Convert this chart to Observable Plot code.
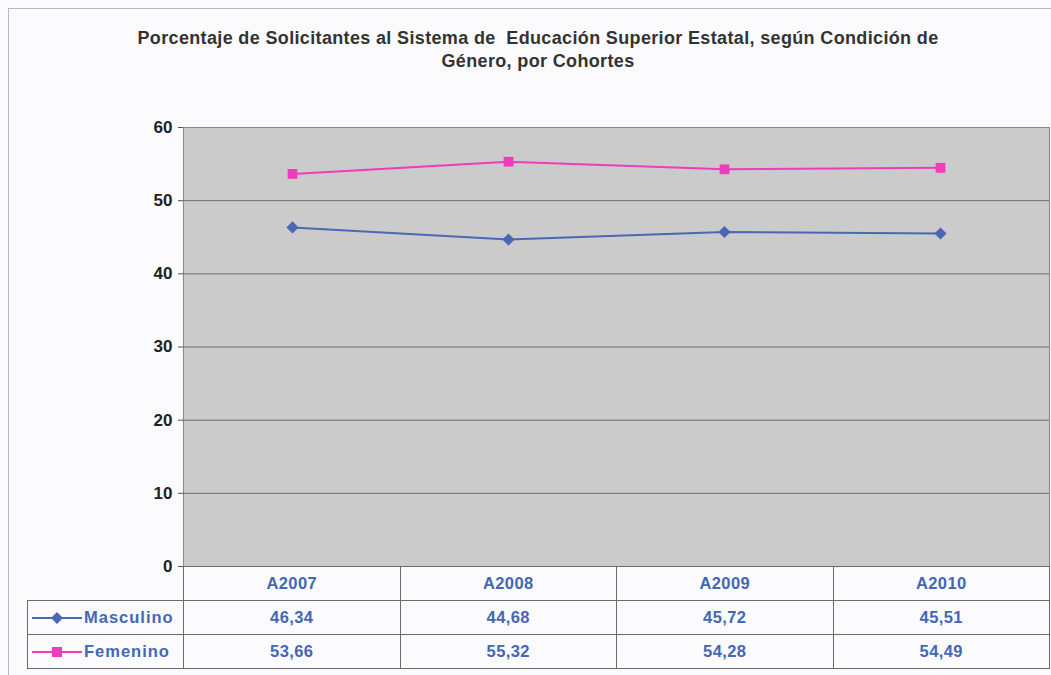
<!DOCTYPE html>
<html>
<head>
<meta charset="utf-8">
<script src="https://cdn.jsdelivr.net/npm/d3@7"></script>
<script src="https://cdn.jsdelivr.net/npm/@observablehq/plot@0.6"></script>
<style>
  html, body { margin: 0; padding: 0; background: #fcfcfe; }
  #wrap { position: relative; width: 1051px; height: 675px; overflow: hidden; background: #fbfbfd; font-family: "Liberation Sans", Arial, sans-serif; }
  #border { position: absolute; left: 8px; top: 8px; width: 1060px; height: 680px; border: 1px solid #b8b8b8; box-sizing: border-box; }
  #title { position: absolute; left: 0; top: 27px; width: 1076px; text-align: center; font-family: "Liberation Sans", Arial, sans-serif; font-weight: bold; font-size: 18px; letter-spacing: 0.35px; line-height: 23px; color: #333; }
  #chart { position: absolute; left: 0; top: 0; }
  #tbl { position: absolute; left: 27px; top: 566px; border-collapse: collapse; table-layout: fixed; }
  #tbl td { border: 1px solid #6a6a6a; height: 33px; padding: 0; text-align: center; font-weight: bold; font-size: 16.5px; color: #4267b6; letter-spacing: 0.4px; }
  #tbl td.blank { border: none; border-bottom: 1px solid #6a6a6a; }
  #tbl td.lg { text-align: left; white-space: nowrap; }
  #tbl svg { vertical-align: middle; }
</style>
</head>
<body>
<div id="wrap">
  <div id="border"></div>
  <div id="title">Porcentaje de Solicitantes al Sistema de&nbsp; Educación Superior Estatal, según Condición de<br>Género, por Cohortes</div>
  <div id="chart"></div>
  <table id="tbl"></table>
</div>
<script>
const cohortes = ["A2007", "A2008", "A2009", "A2010"];
const masculino = [46.34, 44.68, 45.72, 45.51];
const femenino = [53.66, 55.32, 54.28, 54.49];
const yTicks = [0, 10, 20, 30, 40, 50, 60];
const series = [
  {name: "Masculino", values: masculino, color: "#4a68b2", symbol: "diamond2"},
  {name: "Femenino", values: femenino, color: "#f03cbc", symbol: "square"}
];

const data = series.flatMap(s => cohortes.map((c, i) => ({serie: s.name, cohorte: c, valor: s.values[i]})));

const chart = Plot.plot({
  width: 1051,
  height: 568,
  marginLeft: 183,
  marginRight: 2,
  marginTop: 127,
  marginBottom: 2,
  style: {background: "transparent", fontFamily: "Liberation Sans, Arial, sans-serif", overflow: "visible"},
  x: {type: "point", domain: cohortes, padding: 0.5, axis: null},
  y: {domain: [0, 60], ticks: yTicks, label: null},
  color: {domain: series.map(s => s.name), range: series.map(s => s.color)},
  symbol: {domain: series.map(s => s.name), range: series.map(s => s.symbol)},
  marks: [
    Plot.frame({fill: "#cbcbcb", stroke: "#8a8a8a"}),
    Plot.gridY(yTicks.filter(t => t > 0 && t < 60), {stroke: "#6e6e6e", strokeOpacity: 1, strokeWidth: 1}),
    Plot.axisY({ticks: yTicks, tickSize: 5, tickPadding: 6, fontSize: 17, fontWeight: "bold", fill: "#222", stroke: "#555", label: null}),
    Plot.line(data, {x: "cohorte", y: "valor", z: "serie", stroke: "serie", strokeWidth: 2}),
    Plot.dot(data, {x: "cohorte", y: "valor", fill: "serie", symbol: "serie", r: 5.5, stroke: "none"})
  ]
});
document.getElementById("chart").appendChild(chart);

// data table below chart
const tbl = document.getElementById("tbl");
const colW = 216.5;
const cg = document.createElement("colgroup");
cg.innerHTML = `<col style="width:156px">` + cohortes.map(() => `<col style="width:${colW}px">`).join("");
tbl.appendChild(cg);
const head = document.createElement("tr");
head.innerHTML = `<td class="blank"></td>` + cohortes.map(c => `<td>${c}</td>`).join("");
tbl.appendChild(head);
const fmt = v => v.toFixed(2).replace(".", ",");
for (const s of series) {
  const tr = document.createElement("tr");
  const marker = s.symbol === "square"
    ? `<rect x="20" y="4" width="10" height="10" fill="${s.color}"/>`
    : `<path d="M25 3 L31 9 L25 15 L19 9 Z" fill="${s.color}"/>`;
  tr.innerHTML = `<td class="lg"><svg width="52" height="18" style="margin-left:4px"><line x1="0" y1="9" x2="50" y2="9" stroke="${s.color}" stroke-width="2"/>${marker}</svg><span style="letter-spacing:1px">${s.name}</span></td>` +
    s.values.map(v => `<td>${fmt(v)}</td>`).join("");
  tbl.appendChild(tr);
}
</script>
</body>
</html>
